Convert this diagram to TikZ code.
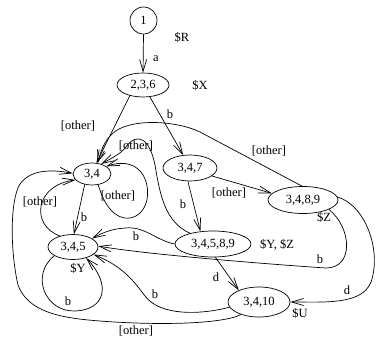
\documentclass[tikz,border=0pt]{standalone}
\usepackage{fontspec}
\setmainfont{Liberation Serif}
\usetikzlibrary{shapes.geometric,arrows.meta}
\tikzset{
  st/.style={draw,ellipse,inner sep=0pt,line width=0.7pt},
  lbl/.style={inner sep=0pt,font=\fontsize{12.5}{14}\selectfont},
  edge/.style={line width=0.7pt,-{Straight Barb[length=12pt,width=7pt,line width=0.7pt]}},
}
\begin{document}
\begin{tikzpicture}[x=1pt,y=-1pt,font=\fontsize{12.5}{14}\selectfont]
\useasboundingbox (0,0) rectangle (377,339);
% states
\node[draw,circle,minimum size=27pt,inner sep=0pt,line width=0.7pt] (n1) at (143.5,20.5) {1};
\node[st,minimum width=52pt,minimum height=24pt] (n236) at (143,85) {2,3,6};
\node[st,minimum width=38pt,minimum height=22pt] (n34) at (92,174) {3,4};
\node[st,minimum width=54pt,minimum height=26pt] (n347) at (190,168) {3,4,7};
\node[st,minimum width=70pt,minimum height=27pt] (n3489) at (303,200) {3,4,8,9};
\node[st,minimum width=50pt,minimum height=25pt] (n345) at (73,247) {3,4,5};
\node[st,minimum width=76pt,minimum height=26pt] (n34589) at (213,244) {3,4,5,8,9};
\node[st,minimum width=62pt,minimum height=30pt] (n3410) at (259,302) {3,4,10};
% state annotations
\node[lbl] (tR) at (182,37) {\$R};
\node[lbl] (tX) at (200,85) {\$X};
\node[lbl] (tZ) at (324,217) {\$Z};
\node[lbl] (tY) at (78,268) {\$Y};
\node[lbl] (tYZ) at (277,245) {\$Y, \$Z};
\node[lbl] (tU) at (300,313) {\$U};
% edges
\draw[edge] (n1.south) -- (n236.north);
\node[lbl] (la) at (156,59) {a};
\draw[edge] (n236.219) -- (n34.68);
\node[lbl] (l2) at (78,126) {[other]};
\draw[edge] (n236.300) -- (n347.118);
\node[lbl] (l3) at (170,114) {b};
\draw[edge] (n3489.94) -- (200,132) .. controls (175,120) and (128,118) .. (112,134) .. controls (104,142) and (101,150) .. (n34.62);
\node[lbl] (l4) at (269,151) {[other]};
\draw[edge] (n34589.155) .. controls (165,222) and (160,195) .. (155,165) .. controls (150,140) and (138,130) .. (125,148) .. controls (120,154) and (114,157) .. (n34.48);
\node[lbl] (l5) at (136,146) {[other]};
\draw[edge] (n34.300) .. controls (104,205) and (115,220) .. (130,218) .. controls (148,215) and (152,190) .. (143,175) .. controls (137,165) and (125,160) .. (n34.28);
\node[lbl] (l34) at (118,196) {[other]};
\draw[edge] (n34.235) -- (n345.86);
\node[lbl] (l6) at (84,217) {b};
\draw[edge] (n345.140) .. controls (30,225) and (35,185) .. (n34.200);
\node[lbl] (l7) at (40,202) {[other]};
\draw[edge] (n3410.215) .. controls (220,325) and (150,325) .. (100,321) .. controls (60,318) and (28,312) .. (18,285) .. controls (10,250) and (10,200) .. (20,184) .. controls (30,170) and (50,169) .. (n34.178);
\node[lbl] (l8) at (136,331) {[other]};
\draw[edge] (n347.261) -- (n34589.135);
\node[lbl] (l9) at (183,204) {b};
\draw[edge] (n347.340) -- (n3489.168);
\node[lbl] (l10) at (229,193) {[other]};
\draw[edge] (n34589.180) .. controls (155,240) and (145,226) .. (125,228) .. controls (112,229) and (104,232) .. (n345.24);
\node[lbl] (l11) at (136,236) {b};
\draw[edge] (n3489.340) .. controls (352,228) and (354,268) .. (326,268) .. controls (280,265) and (150,255) .. (n345.2);
\node[lbl] (l12) at (320,259) {b};
\draw[edge] (n3489.5) .. controls (365,205) and (382,250) .. (371,282) .. controls (362,305) and (325,302) .. (n3410.0);
\node[lbl] (l13) at (347,290) {d};
\draw[edge] (n34589.280) -- (n3410.150);
\node[lbl] (l14) at (216,277) {d};
\draw[edge] (n3410.190) .. controls (200,315) and (160,316) .. (145,296) .. controls (133,280) and (122,266) .. (n345.340);
\node[lbl] (l15) at (155,294) {b};
\draw[edge] (n345.205) .. controls (30,275) and (45,312) .. (75,311) .. controls (105,310) and (112,285) .. (n345.320);
\node[lbl] (l16) at (68,301) {b};
\end{tikzpicture}
\end{document}
